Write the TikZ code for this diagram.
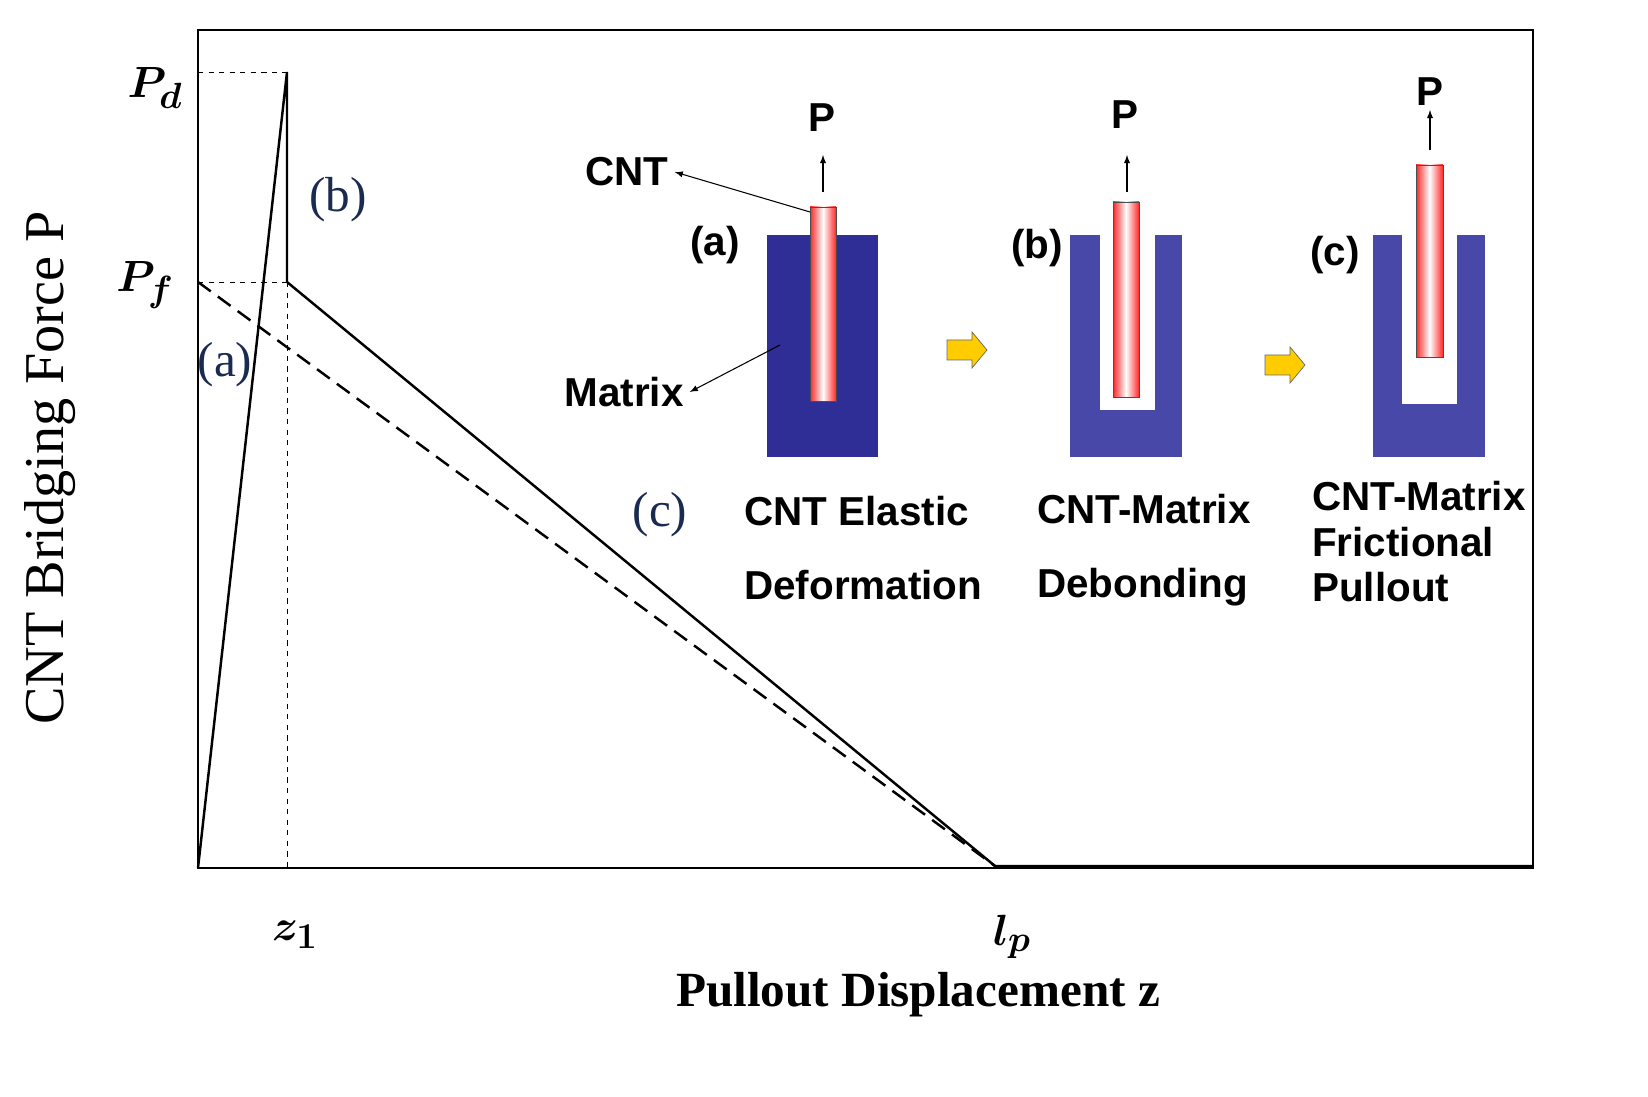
\documentclass[tikz,border=0pt]{standalone}
\usepackage{bm}
\usepackage{fontspec}
\setmainfont{Liberation Serif}
\newfontfamily\sansb{Liberation Sans}
\usetikzlibrary{arrows,calc,positioning}
\definecolor{matdark}{HTML}{2E2E96}
\definecolor{matlight}{HTML}{4848A8}
\definecolor{tagcol}{HTML}{1A2A50}
\definecolor{arrowyel}{HTML}{FFCC00}
\begin{document}
\begin{tikzpicture}[x=0.02cm,y=-0.02cm,
  curve/.style={line width=1.4pt},
  guide/.style={thin,dashed},
  tag/.style={text=tagcol,font=\fontsize{28}{30}\selectfont},
  sans/.style={font=\sansb\bfseries\fontsize{23}{26}\selectfont},
  cnt/.style={draw=black!70,thin,left color=red!85,right color=red!85,middle color=white},
  pull/.style={->,>=latex,semithick},
  stagearrow/.style={draw=black!60,fill=arrowyel}
  ]
  \useasboundingbox (0,0) rectangle (1648,1097);
  % frame and axes
  \draw[thick] (198,30) rectangle (1533,868);
  \coordinate (O) at (198,868);
  \coordinate (Pd) at (287,72);
  \coordinate (Pf) at (287,282);
  \coordinate (Lp) at (995,866);
  \coordinate (End) at (1533,866);
  \draw[guide] (198,72) -- (Pd);
  \draw[guide] (198,282) -- (Pf);
  \draw[guide] (Pf) -- (287,868);
  \draw[curve] (O) -- (Pd) -- (Pf) -- (Lp) -- (End);
  \draw[curve,dash pattern=on 9pt off 5pt] (198,282) -- (Lp);

  \node[font=\fontsize{32}{34}\selectfont] (pd) at (155,88) {$\bm{P_d}$};
  \node[font=\fontsize{32}{34}\selectfont] (pf) at (145,285) {$\bm{P_f}$};
  \node[font=\fontsize{32}{34}\selectfont] (z1) at (295,935) {$\bm{z_1}$};
  \node[font=\fontsize{32}{34}\selectfont] (lp) at (1012,937) {$\bm{l_p}$};
  \node[font=\fontsize{28}{30}\selectfont\bfseries] (xlab) at (918,995) {Pullout Displacement z};
  \node[font=\fontsize{32}{34}\selectfont,rotate=90] (ylab) at (50,468) {CNT Bridging Force P};
  \node[tag] (tb) at (338,200) {(b)};
  \node[tag] (ta) at (225,365) {(a)};
  \node[tag] (tc) at (660,515) {(c)};

  % inset (a)
  \fill[matdark] (767,235) rectangle (878,457);
  \shade[cnt] (810,207) rectangle (836,401);
  \coordinate (ta0) at (823,192);
  \node[sans] (Pa) at (822,118) {P};
  \draw[pull] (ta0) -- (823,155);
  \node[sans] (la) at (715,245) {(a)};
  \node[sans] (cntl) at (627,172) {CNT};
  \coordinate (cnttip) at (810,212);
  \draw[pull] (cnttip) -- (cntl.east);
  \node[sans] (matl) at (624,392) {Matrix};
  \coordinate (mattip) at (780,345);
  \draw[pull] (mattip) -- (matl.east);

  % inset (b)
  \fill[matlight] (1070,235) rectangle (1182,457);
  \fill[white] (1100,235) rectangle (1155,410);
  \shade[cnt] (1113,202) rectangle (1139,397);
  \node[sans] (Pb) at (1125,115) {P};
  \coordinate (tb0) at (1127,192);
  \draw[pull] (tb0) -- (1127,155);
  \node[sans] (lb) at (1037,248) {(b)};

  % inset (c)
  \fill[matlight] (1373,235) rectangle (1485,457);
  \fill[white] (1402,235) rectangle (1457,404);
  \shade[cnt] (1416,165) rectangle (1443,357);
  \node[sans] (Pc) at (1430,92) {P};
  \coordinate (tc0) at (1430,150);
  \draw[pull] (tc0) -- (1430,110);
  \node[sans] (lc) at (1335,255) {(c)};

  % step arrows
  \foreach \ax/\ay in {947/350,1265/365}
    \draw[stagearrow] (\ax,\ay-10) -- ++(25,0) -- ++(0,-8) -- ++(15,18) -- ++(-15,18) -- ++(0,-8) -- ++(-25,0) -- cycle;

  % captions
  \node[sans,align=left,anchor=north west] (ca) at (738,490) {CNT Elastic\\[16pt]Deformation};
  \node[sans,align=left,anchor=north west] (cb) at (1031,488) {CNT-Matrix\\[16pt]Debonding};
  \node[sans,align=left,anchor=north west,font=\sansb\bfseries\fontsize{23}{26}\selectfont] (cc) at (1306,475) {CNT-Matrix\\Frictional\\Pullout};
\end{tikzpicture}
\end{document}
